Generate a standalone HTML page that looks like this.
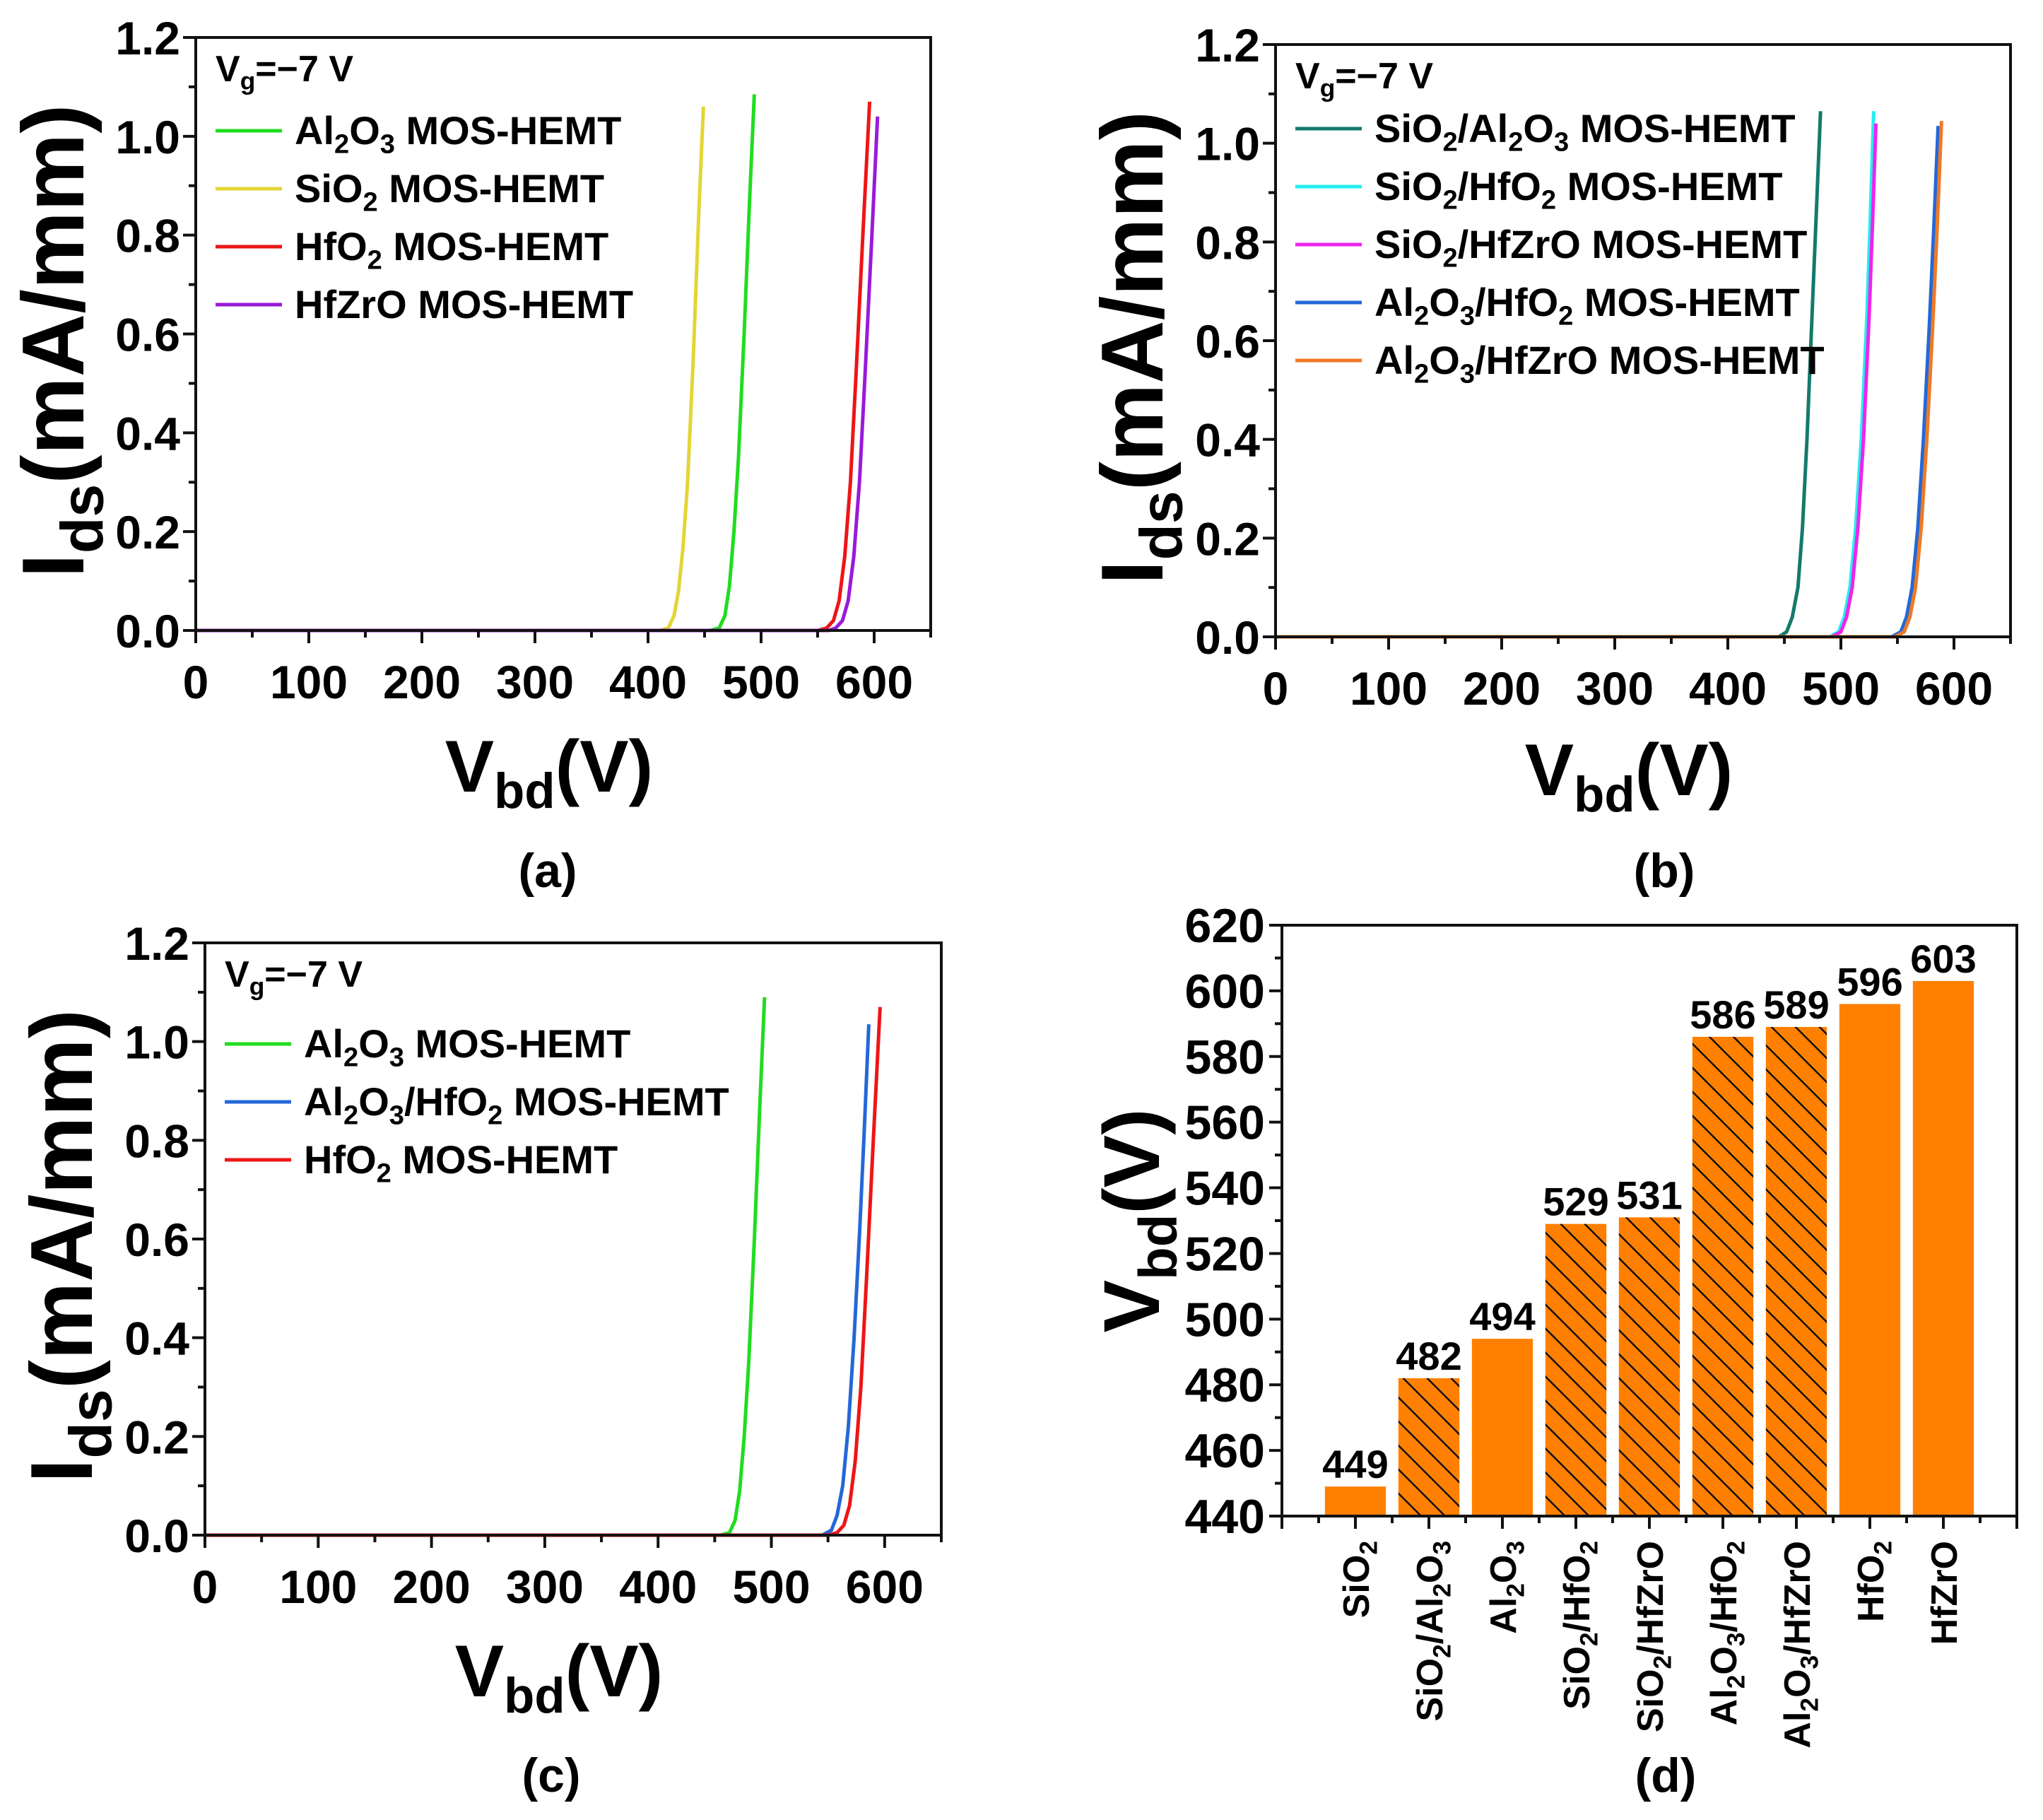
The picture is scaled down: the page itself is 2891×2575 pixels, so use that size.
<!DOCTYPE html>
<html><head><meta charset="utf-8">
<style>
html,body{margin:0;padding:0;background:#fff;}
svg{display:block;font-family:"Liberation Sans",Arial,sans-serif;font-weight:bold;}
</style></head>
<body>
<svg id="fig" width="2891" height="2575" viewBox="0 0 2891 2575" xmlns="http://www.w3.org/2000/svg">
<defs>
<pattern id="hatch" patternUnits="userSpaceOnUse" width="24" height="24" patternTransform="rotate(-45)">
<rect width="24" height="24" fill="#ff8000"/>
<line x1="0" y1="0" x2="0" y2="24" stroke="#111" stroke-width="5"/>
</pattern>
</defs>
</svg>
<script>
// ---------- data ----------
const xTicksIV = [0,100,200,300,400,500,600];
const yTicksIV = [0.0,0.2,0.4,0.6,0.8,1.0,1.2];

const aAl2O3V = [0,455,463,468,472,476,480,485,490,494];
const aAl2O3I = [0,0,0.005,0.03,0.09,0.2,0.35,0.6,0.88,1.085];
const aSiO2V = [0,410,418,423,427,431,435,440,445,449];
const aSiO2I = [0,0,0.005,0.03,0.08,0.17,0.3,0.55,0.85,1.06];
const aHfO2V = [0,550,558,564,569,574,579,584,590,596];
const aHfO2I = [0,0,0.005,0.02,0.06,0.15,0.3,0.52,0.8,1.07];
const aHfZrOV = [0,560,566,572,577,582,587,592,598,603];
const aHfZrOI = [0,0,0.005,0.02,0.06,0.15,0.3,0.52,0.8,1.04];

const bSiAlV = [0,445,452,457,462,466,470,475,479,482];
const bSiAlI = [0,0,0.01,0.04,0.1,0.22,0.4,0.68,0.9,1.065];
const bSiHfV = [0,490,498,503,508,513,518,523,526,529];
const bSiHfI = [0,0,0.01,0.04,0.1,0.22,0.4,0.65,0.85,1.065];
const bSiHzV = [0,492,500,505,510,515,520,525,528,531];
const bSiHzI = [0,0,0.01,0.04,0.1,0.22,0.4,0.65,0.84,1.04];
const bAlHfV = [0,545,553,558,563,568,573,578,582,586];
const bAlHfI = [0,0,0.01,0.04,0.1,0.22,0.4,0.62,0.82,1.035];
const bAlHzV = [0,548,556,561,566,571,576,581,585,589];
const bAlHzI = [0,0,0.01,0.04,0.1,0.22,0.4,0.62,0.82,1.045];

const cAl2O3V = [0,455,463,468,472,476,480,485,490,494];
const cAl2O3I = [0,0,0.005,0.03,0.09,0.2,0.35,0.6,0.88,1.09];
const cAlHfV = [0,545,553,558,563,568,573,578,582,586];
const cAlHfI = [0,0,0.01,0.04,0.1,0.22,0.4,0.62,0.82,1.035];
const cHfO2V = [0,550,558,564,569,574,579,584,590,596];
const cHfO2I = [0,0,0.005,0.02,0.06,0.15,0.3,0.52,0.8,1.07];

const dCategories = [["SiO","2"],["SiO","2","/Al","2","O","3"],["Al","2","O","3"],["SiO","2","/HfO","2"],["SiO","2","/HfZrO"],["Al","2","O","3","/HfO","2"],["Al","2","O","3","/HfZrO"],["HfO","2"],["HfZrO"]];
const dValues = [449,482,494,529,531,586,589,596,603];
const dHatched = [false,true,false,true,true,true,true,false,false];
const dYTicks = [440,460,480,500,520,540,560,580,600,620];

// ---------- helpers ----------
const NS="http://www.w3.org/2000/svg";
const svg=document.getElementById('fig');
function mk(tag,attrs,parent){const e=document.createElementNS(NS,tag);for(const k in attrs)e.setAttribute(k,attrs[k]);(parent||svg).appendChild(e);return e;}
function subText(parent,x,y,parts,size,anchor,extra){
  const t=mk('text',Object.assign({x:x,y:y,'font-size':size,'text-anchor':anchor||'start'},extra||{}),parent);
  let sub=false;
  parts.forEach((p,i)=>{
    const ts=mk('tspan',{},t);
    if(i%2===1){ts.setAttribute('font-size',size*0.68);ts.setAttribute('dy',size*0.22);sub=true;}
    else if(sub){ts.setAttribute('dy',-size*0.22);sub=false;}
    ts.textContent=p;
  });
  return t;
}

function ivPanel(cfg){
  const g=mk('g',{});
  
  
  const L=cfg.L,R=cfg.R,T=cfg.T,B=cfg.B;
  const sx=v=>L+(v/650)*(R-L);
  const sy=v=>B-(v/1.2)*(B-T);
  cfg.series.forEach(s=>{
    const pts=s.v.map((v,i)=>sx(v).toFixed(1)+','+sy(s.i[i]).toFixed(1)).join(' ');
    const pl=mk('polyline',{points:pts,fill:'none',stroke:s.color,'stroke-width':5,'stroke-linejoin':'round'},g);
    
    
  });
  const fr=mk('rect',{x:L,y:T,width:R-L,height:B-T,fill:'none',stroke:'#111','stroke-width':4},g);
  
  
  for(let v=0;v<=650;v+=50){
    const major=v%100===0;
    mk('line',{x1:sx(v),x2:sx(v),y1:B,y2:B+(major?18:10),stroke:'#111','stroke-width':4},g);
  }
  xTicksIV.forEach(v=>{
    const t=mk('text',{x:sx(v),y:cfg.xLabY,'font-size':66,'text-anchor':'middle'},g);
    
    
    t.textContent=v;
  });
  for(let k=0;k<=12;k++){
    const v=k*0.1,major=k%2===0;
    mk('line',{x1:L,x2:L-(major?18:10),y1:sy(v),y2:sy(v),stroke:'#111','stroke-width':4},g);
  }
  yTicksIV.forEach(v=>{
    const t=mk('text',{x:L-22,y:sy(v)+24,'font-size':66,'text-anchor':'end'},g);
    
    
    t.textContent=v.toFixed(1);
  });
  const xt=subText(g,(L+R)/2-20,cfg.xTitleY,['V','bd','(V)'],104,'middle');
  
  
  const yg=mk('g',{transform:`translate(${cfg.yTitleX},${(T+B)/2+10}) rotate(-90)`},g);
  const yt=subText(yg,0,0,['I','ds','(mA/mm)'],124,'middle');
  
  
  const vg=subText(g,L+28,T+62,['V','g','=\u22127 V'],52,'start');
  
  
  cfg.series.forEach((s,k)=>{
    const y=T+cfg.legY0+k*cfg.legDy;
    const lg=mk('g',{},g);
    
    
    mk('line',{x1:L+28,x2:L+122,y1:y,y2:y,stroke:s.color,'stroke-width':5},lg);
    subText(lg,L+140,y+19,s.label,56,'start');
  });
  const pl=mk('text',{x:cfg.panelX,y:cfg.panelY,'font-size':68,'text-anchor':'middle'},g);
  
  
  pl.textContent=cfg.panel;
}

ivPanel({name:'chart-a',L:277,R:1317,T:53,B:892,xLabY:988,xTitleY:1120,yTitleX:118,panelX:775,panelY:1255,panel:'(a)',legY0:132,legDy:82,
  series:[
    {key:'al2o3',v:aAl2O3V,i:aAl2O3I,color:'#20dd20',label:['Al','2','O','3',' MOS-HEMT']},
    {key:'sio2',v:aSiO2V,i:aSiO2I,color:'#e3d535',label:['SiO','2',' MOS-HEMT']},
    {key:'hfo2',v:aHfO2V,i:aHfO2I,color:'#ee1515',label:['HfO','2',' MOS-HEMT']},
    {key:'hfzro',v:aHfZrOV,i:aHfZrOI,color:'#9a1ad8',label:['HfZrO MOS-HEMT']}
  ]});
ivPanel({name:'chart-b',L:1805,R:2845,T:63,B:901,xLabY:997,xTitleY:1125,yTitleX:1645,panelX:2355,panelY:1255,panel:'(b)',legY0:119,legDy:82,
  series:[
    {key:'sio2-al2o3',v:bSiAlV,i:bSiAlI,color:'#137a6c',label:['SiO','2','/Al','2','O','3',' MOS-HEMT']},
    {key:'sio2-hfo2',v:bSiHfV,i:bSiHfI,color:'#25eeee',label:['SiO','2','/HfO','2',' MOS-HEMT']},
    {key:'sio2-hfzro',v:bSiHzV,i:bSiHzI,color:'#ee25ee',label:['SiO','2','/HfZrO MOS-HEMT']},
    {key:'al2o3-hfo2',v:bAlHfV,i:bAlHfI,color:'#2468d8',label:['Al','2','O','3','/HfO','2',' MOS-HEMT']},
    {key:'al2o3-hfzro',v:bAlHzV,i:bAlHzI,color:'#ee7a25',label:['Al','2','O','3','/HfZrO MOS-HEMT']}
  ]});
ivPanel({name:'chart-c',L:290,R:1332,T:1334,B:2172,xLabY:2268,xTitleY:2400,yTitleX:130,panelX:780,panelY:2535,panel:'(c)',legY0:143,legDy:82,
  series:[
    {key:'al2o3',v:cAl2O3V,i:cAl2O3I,color:'#20dd20',label:['Al','2','O','3',' MOS-HEMT']},
    {key:'al2o3-hfo2',v:cAlHfV,i:cAlHfI,color:'#2468d8',label:['Al','2','O','3','/HfO','2',' MOS-HEMT']},
    {key:'hfo2',v:cHfO2V,i:cHfO2I,color:'#ee1515',label:['HfO','2',' MOS-HEMT']}
  ]});

// ---------- panel d ----------
(function(){
  const g=mk('g',{});
  
  
  const L=1814,R=2854,T=1309,B=2145;
  const sx=v=>L+(v/10)*(R-L);
  const sy=v=>B-((v-440)/180)*(B-T);
  const bw=0.83*(R-L)/10;
  dValues.forEach((v,i)=>{
    const cx=sx(i+1);
    const r=mk('rect',{x:cx-bw/2,y:sy(v),width:bw,height:B-sy(v),fill:dHatched[i]?'url(#hatch)':'#ff8000'},g);
    
    
    const t=mk('text',{x:cx,y:sy(v)-12,'font-size':56,'text-anchor':'middle'},g);
    
    
    t.textContent=v;
    const lg=mk('g',{transform:`translate(${cx+19},${B+35}) rotate(-90)`},g);
    const ct=subText(lg,0,0,dCategories[i],52,'end');
    
    
  });
  const fr=mk('rect',{x:L,y:T,width:R-L,height:B-T,fill:'none',stroke:'#111','stroke-width':4},g);
  
  
  for(let k=0;k<=20;k++){
    const v=k*0.5,major=k%2===0;
    mk('line',{x1:sx(v),x2:sx(v),y1:B,y2:B+(major?18:10),stroke:'#111','stroke-width':4},g);
  }
  for(let v=440;v<=620;v+=10){
    const major=v%20===0;
    mk('line',{x1:L,x2:L-(major?18:10),y1:sy(v),y2:sy(v),stroke:'#111','stroke-width':4},g);
  }
  dYTicks.forEach(v=>{
    const t=mk('text',{x:L-24,y:sy(v)+24,'font-size':68,'text-anchor':'end'},g);
    
    
    t.textContent=v;
  });
  const yg=mk('g',{transform:`translate(${1640},${(T+B)/2}) rotate(-90)`},g);
  const yt=subText(yg,0,0,['V','bd','(V)'],112,'middle');
  
  
  const pl=mk('text',{x:2357,y:2535,'font-size':68,'text-anchor':'middle'},g);
  
  
  pl.textContent='(d)';
})();
</script>
</body></html>
